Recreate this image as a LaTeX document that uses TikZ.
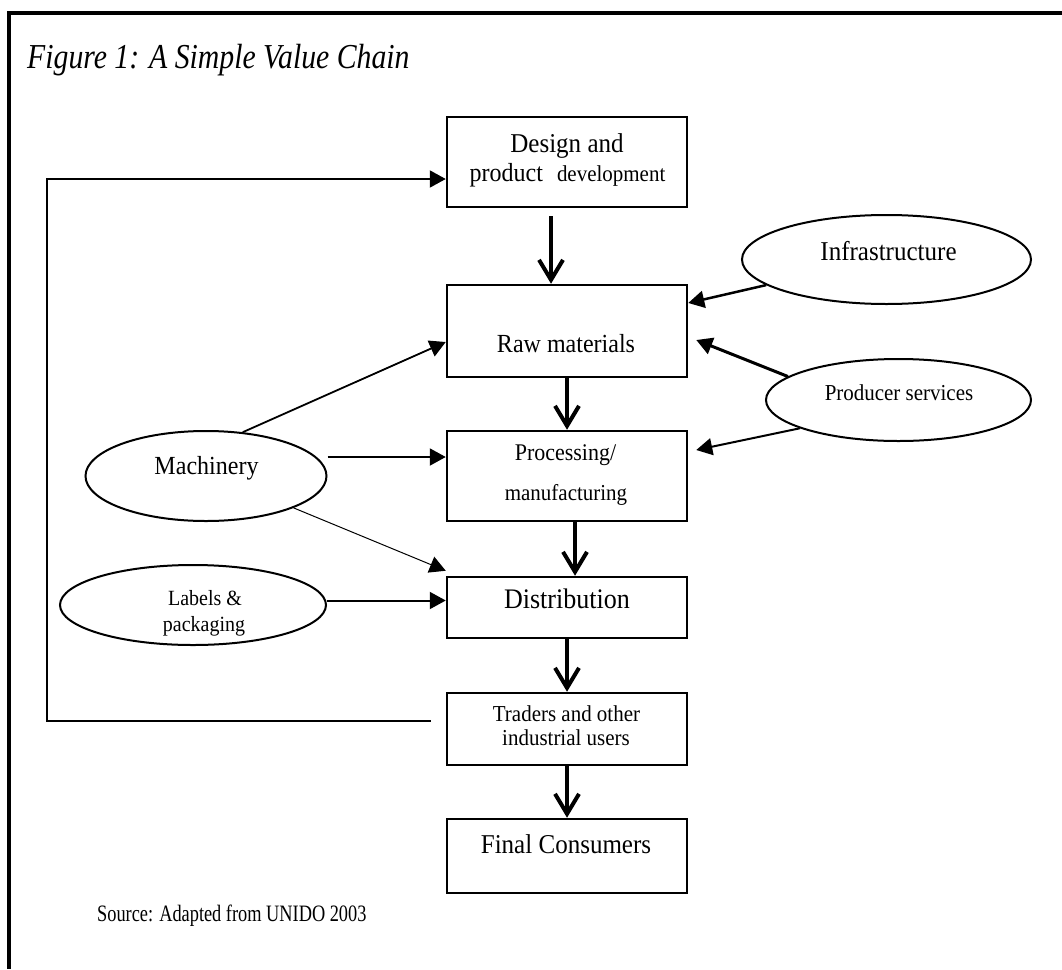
\documentclass[tikz,border=0pt]{standalone}
\usepackage{fontspec}
\setmainfont[FakeStretch=0.92]{Liberation Serif}
\newfontfamily\titlefont[FakeStretch=0.85]{Liberation Serif}
\newfontfamily\srcfont[FakeStretch=0.78]{Liberation Serif}
\usetikzlibrary{arrows.meta,shapes.geometric}
\newcommand{\fs}[1]{\fontsize{#1}{#1}\selectfont}
\begin{document}
\begin{tikzpicture}[x=1pt,y=-1pt,
  box/.style={draw, line width=2.5pt, minimum width=240pt, inner sep=0pt},
  oval/.style={draw, ellipse, line width=2pt, inner sep=0pt},
  txt/.style={inner sep=0pt, anchor=base},
  mainarrow/.style={line width=4pt, -{Straight Barb[length=20pt,width=24pt,line width=4pt]}},
  side/.style={line width=2pt, -{Triangle[length=16pt,width=17pt]}},
]
\useasboundingbox (0,0) rectangle (1062,969);
\fill[white] (0,0) rectangle (1062,969);
% frame
\draw[line width=4pt] (1062,13) -- (9,13) -- (9,969);
% title and source
\node[txt, anchor=base west] (title) at (27,68) {\titlefont\itshape\fs{35}Figure 1: A Simple Value Chain};
\node[txt, anchor=base west] (source) at (97,921) {\srcfont\fs{23.5}Source: Adapted from UNIDO 2003};
% boxes
\node[box, minimum height=90pt] (design) at (567,162) {};
\node[box, minimum height=92pt] (raw) at (567,331) {};
\node[box, minimum height=90pt] (proc) at (567,476) {};
\node[box, minimum height=61pt] (dist) at (567,607.5) {};
\node[box, minimum height=72pt] (traders) at (567,729) {};
\node[box, minimum height=74pt] (final) at (567,856) {};
% box texts
\node[txt] (t1) at (567,152) {\fs{27.2}Design and};
\node[txt] (t2) at (567.5,181) {\fs{26.1}product\hspace{14pt}\fs{22.8}development};
\node[txt] (t3) at (566,352) {\fs{26.1}Raw materials};
\node[txt] (t4) at (565.5,460) {\fs{23.9}Processing/};
\node[txt] (t5) at (566,500) {\fs{22.8}manufacturing};
\node[txt] (t6) at (567,608) {\fs{28.3}Distribution};
\node[txt] (t7) at (566.5,721) {\fs{22.8}Traders and other};
\node[txt] (t8) at (566,745) {\fs{22.8}industrial users};
\node[txt] (t9) at (566,853) {\fs{27.2}Final Consumers};
% ellipses
\node[oval, minimum width=289pt, minimum height=89pt] (infra) at (886.5,259.5) {};
\node[oval, minimum width=265pt, minimum height=82pt] (prod) at (898.5,400) {};
\node[oval, minimum width=241pt, minimum height=90pt] (mach) at (206,476) {};
\node[oval, minimum width=266pt, minimum height=80pt] (lab) at (193,605) {};
\node[txt] (e1) at (888.5,260) {\fs{27.2}Infrastructure};
\node[txt] (e2) at (899,400) {\fs{22.8}Producer services};
\node[txt] (e3) at (206.5,474) {\fs{26.1}Machinery};
\node[txt] (e4) at (205,605) {\fs{21.7}Labels \&};
\node[txt] (e5) at (204,631) {\fs{21.7}packaging};
% main chain arrows
\draw[mainarrow, shorten <=8pt] ([xshift=-16pt]design.south) -- ([xshift=-16pt]raw.north);
\draw[mainarrow] (raw.south) -- (proc.north);
\draw[mainarrow] ([xshift=8pt]proc.south) -- ([xshift=8pt]dist.north);
\draw[mainarrow] (dist.south) -- (traders.north);
\draw[mainarrow] (traders.south) -- (final.north);
% side arrows
\draw[side, line width=2.5pt] (infra.192) -- ([yshift=28pt]raw.east);
\draw[side, line width=3pt] (prod.168) -- ([xshift=8pt,yshift=-9pt]raw.east);
\draw[side] (prod.196) -- ([xshift=8pt,yshift=26pt]proc.east);
\draw[side, line width=1.8pt] (mach.50) -- ([yshift=-11pt]raw.west);
\coordinate (pm) at ([yshift=19pt]proc.west);
\draw[side] (pm -| mach.east) -- (pm);
\draw[side, line width=1pt] (mach.-20) -- ([yshift=5pt]dist.north west);
\coordinate (dl) at ([yshift=7pt]dist.west);
\draw[side] (dl -| lab.east) -- (dl);
% feedback loop
\coordinate (fb1) at ([xshift=-15pt,yshift=8pt]traders.west);
\coordinate (fb2) at ([yshift=-17pt]design.west);
\coordinate (fbx) at (47,450);
\draw[side] (fb1) -- (fb1 -| fbx) -- (fb2 -| fbx) -- (fb2);
\end{tikzpicture}
\end{document}
